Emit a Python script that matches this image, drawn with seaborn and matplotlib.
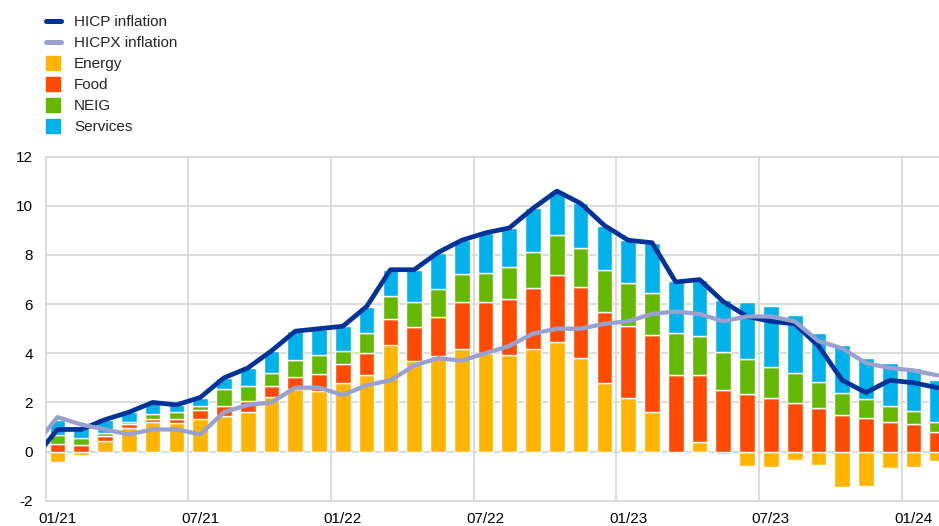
import numpy as np
import matplotlib
matplotlib.use("Agg")
import matplotlib.pyplot as plt
import seaborn as sns
from matplotlib.lines import Line2D

sns.set_theme(style="white")
plt.rcParams["font.family"] = ["Liberation Sans", "DejaVu Sans"]
plt.rcParams["axes.unicode_minus"] = False

# monthly data, 01/21 to 02/24 (bars); lines start one month earlier (12/20)
tick_labels = ["01/21", "07/21", "01/22", "07/22", "01/23", "07/23", "01/24"]

energy = [-0.41, -0.15, 0.45, 0.96, 1.19, 1.17, 1.33, 1.45, 1.63, 2.22, 2.55, 2.48,
          2.81, 3.12, 4.35, 3.70, 3.87, 4.18, 4.00, 3.93, 4.18, 4.45, 3.81, 2.80,
          2.20, 1.63, -0.05, 0.38, -0.08, -0.58, -0.64, -0.34, -0.54, -1.45, -1.42, -0.68,
          -0.62, -0.37]
food = [0.30, 0.27, 0.20, 0.15, 0.14, 0.16, 0.35, 0.42, 0.43, 0.43, 0.50, 0.68,
        0.74, 0.88, 1.06, 1.35, 1.59, 1.89, 2.10, 2.27, 2.47, 2.72, 2.87, 2.87,
        2.92, 3.11, 3.11, 2.73, 2.52, 2.36, 2.20, 1.97, 1.76, 1.48, 1.36, 1.22,
        1.11, 0.79]
neig = [0.38, 0.27, 0.10, 0.11, 0.19, 0.30, 0.18, 0.67, 0.59, 0.54, 0.66, 0.77,
        0.56, 0.83, 0.92, 1.02, 1.14, 1.15, 1.16, 1.32, 1.49, 1.63, 1.62, 1.70,
        1.73, 1.73, 1.71, 1.61, 1.52, 1.41, 1.26, 1.22, 1.06, 0.89, 0.77, 0.65,
        0.55, 0.43]
services = [0.61, 0.51, 0.55, 0.38, 0.48, 0.27, 0.34, 0.46, 0.75, 0.91, 1.19, 1.07,
            0.99, 1.07, 1.07, 1.33, 1.50, 1.38, 1.64, 1.58, 1.76, 1.80, 1.80, 1.83,
            1.75, 2.03, 2.13, 2.28, 2.14, 2.31, 2.48, 2.37, 2.02, 1.98, 1.69, 1.72,
            1.73, 1.70]

hicp = [-0.3, 0.9, 0.9, 1.3, 1.6, 2.0, 1.9, 2.2, 3.0, 3.4, 4.1, 4.9, 5.0,
        5.1, 5.9, 7.4, 7.4, 8.1, 8.6, 8.9, 9.1, 9.9, 10.6, 10.1, 9.2,
        8.6, 8.5, 6.9, 7.0, 6.1, 5.5, 5.3, 5.2, 4.3, 2.9, 2.4, 2.9,
        2.8, 2.6]
hicpx = [0.2, 1.4, 1.1, 0.9, 0.7, 0.9, 0.9, 0.7, 1.6, 1.9, 2.0, 2.6, 2.6,
         2.3, 2.7, 2.9, 3.5, 3.8, 3.7, 4.0, 4.3, 4.8, 5.0, 5.0, 5.2,
         5.3, 5.6, 5.7, 5.6, 5.3, 5.5, 5.5, 5.3, 4.5, 4.2, 3.6, 3.4,
         3.3, 3.1]

COLORS = {
    "hicp": "#003299",
    "hicpx": "#98a1d0",
    "energy": "#ffb400",
    "food": "#ff4b00",
    "neig": "#65b800",
    "services": "#00b1ea",
}

fig = plt.figure(figsize=(9.39, 5.26), dpi=100)
ax = fig.add_axes([45.6 / 939, 25.3 / 526, (939 - 45.6) / 939, 344.0 / 526])

x = np.arange(len(energy))
x_line = np.arange(-1, len(hicp) - 1)
width = 0.66

e = np.array(energy)
f = np.array(food)
n = np.array(neig)
s = np.array(services)

# energy can be negative, the rest stack upward from max(energy, 0)
base = np.clip(e, 0, None)
ax.bar(x, e, width=width, color=COLORS["energy"], zorder=2)
ax.bar(x, f, width=width, bottom=base, color=COLORS["food"], zorder=2)
ax.bar(x, n, width=width, bottom=base + f, color=COLORS["neig"], zorder=2)
ax.bar(x, s, width=width, bottom=base + f + n, color=COLORS["services"], zorder=2)

sns.lineplot(x=x_line, y=hicp, ax=ax, color=COLORS["hicp"], linewidth=3.4, zorder=3)
sns.lineplot(x=x_line, y=hicpx, ax=ax, color=COLORS["hicpx"], linewidth=3.1, zorder=4)

ax.set_xlim(-0.5, 37.07)
ax.set_ylim(-2, 12)
ax.set_yticks(np.arange(-2, 13, 2))
ax.set_xticks(np.arange(0, 38, 6))
ax.set_xticklabels(tick_labels)
ax.set_xticks(np.arange(-0.5, 38, 6), minor=True)

ax.grid(False)
ax.grid(axis="y", which="major", color="#d9d9d9", linewidth=1.3, zorder=0)
ax.grid(axis="x", which="minor", color="#d9d9d9", linewidth=1.3, zorder=0)
for t in ax.yaxis.get_major_ticks() + ax.xaxis.get_minor_ticks():
    t.gridline.set_clip_on(False)
ax.set_axisbelow(True)

for sp in ax.spines.values():
    sp.set_visible(False)

ax.tick_params(axis="both", which="both", length=0, labelsize=11, colors="black")
ax.tick_params(axis="x", pad=8)
ax.tick_params(axis="y", pad=9)

handles = [
    Line2D([0], [0], color=COLORS["hicp"], linewidth=3.6),
    Line2D([0], [0], color=COLORS["hicpx"], linewidth=3.6),
]
for key in ["energy", "food", "neig", "services"]:
    handles.append(Line2D([], [], marker="s", markersize=10, linestyle="none",
                          markerfacecolor=COLORS[key], markeredgecolor=COLORS[key]))
labels = ["HICP inflation", "HICPX inflation", "Energy", "Food", "NEIG", "Services"]
fig.legend(handles, labels, loc="upper left", bbox_to_anchor=(46 / 939, 1 - 15 / 526),
           frameon=False, fontsize=11, handlelength=0.98,
           handletextpad=0.85, labelspacing=0.46, borderpad=0, borderaxespad=0)

fig.savefig("out.png", dpi=100)
